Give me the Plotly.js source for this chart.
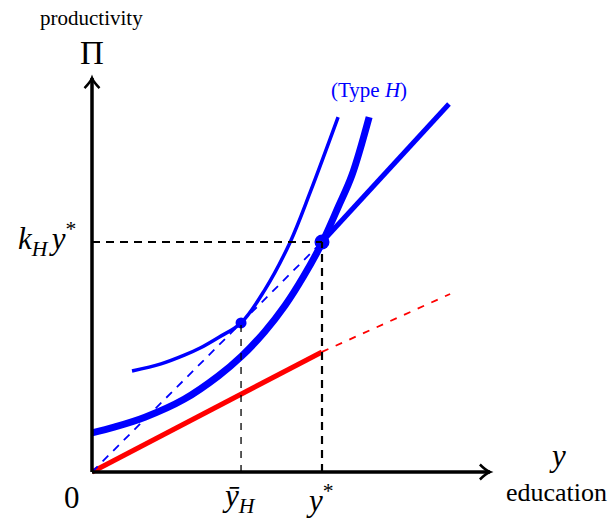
<!DOCTYPE html>
<html>
<head>
<meta charset="utf-8">
<script src="https://cdn.plot.ly/plotly-3.0.1.min.js"></script>
<style>html,body{margin:0;padding:0;background:#fff;}#chart{width:614px;height:521px;}</style>
</head>
<body>
<div id="chart"></div>
<script>
// ---- data (units: y* = 1, k_H y* = 1) ----
const thickX = [0, 0.10, 0.23, 0.40, 0.55, 0.65, 0.75, 0.84, 0.92, 1.00, 1.07, 1.13, 1.205];
const thickY = [0.17, 0.196, 0.238, 0.316, 0.418, 0.503, 0.609, 0.725, 0.851, 0.996, 1.151, 1.29, 1.543];
const thinX = [0.174, 0.30, 0.404, 0.47, 0.55, 0.648, 0.75, 0.86, 0.95, 1.07];
const thinY = [0.439, 0.47, 0.509, 0.539, 0.585, 0.648, 0.79, 0.996, 1.22, 1.543];
const rayX = [1.0, 1.552];
const rayY = [1.0, 1.60];
const chordX = [0, 1.0];
const chordY = [0, 1.0];
const redX = [0, 1.0];
const redY = [0, 0.522];
const redDashX = [1.0, 1.557];
const redDashY = [0.522, 0.774];
const dotX = [0.648, 1.0];
const dotY = [0.648, 1.0];
const dotSize = [11, 15];
const yBarH = 0.648, yStar = 1.0, kHyStar = 1.0;
const xAxisEnd = 1.730, yAxisEnd = 1.713;
const tickLabels = ['0', '<i>ȳ</i><sub><i>H</i></sub>', '<i>y</i><sup>*</sup>'];

// ---- layout helpers ----
const pxPerUnit = 230;
const u = p => p / pxPerUnit;
const serif = 'Liberation Serif, Times New Roman, serif';

const traces = [
  {x: redX, y: redY, mode: 'lines', line: {color: '#ff0000', width: 5}},
  {x: redDashX, y: redDashY, mode: 'lines', line: {color: '#ff0000', width: 1.8, dash: '7px,8px'}},
  {x: chordX, y: chordY, mode: 'lines', line: {color: '#0000ff', width: 1.8, dash: '8px,7px'}},
  {x: thickX, y: thickY, mode: 'lines', line: {color: '#0000ff', width: 7, shape: 'spline', smoothing: 1}},
  {x: thinX, y: thinY, mode: 'lines', line: {color: '#0000ff', width: 3.5, shape: 'spline', smoothing: 1}},
  {x: rayX, y: rayY, mode: 'lines', line: {color: '#0000ff', width: 5}},
  {x: dotX, y: dotY, mode: 'markers', opacity: 1, marker: {color: '#0000ff', size: dotSize, opacity: 1, line: {width: 0, color: '#0000ff'}}}
];

const ah = u(10), aw = u(7.5);
const shapes = [
  // guide lines
  {type: 'line', x0: 0, x1: yStar, y0: kHyStar, y1: kHyStar, line: {color: '#000', width: 2.2, dash: '8px,6px'}},
  {type: 'line', x0: yStar, x1: yStar, y0: 0, y1: kHyStar, line: {color: '#000', width: 2.2, dash: '8px,6px'}},
  {type: 'line', x0: yBarH, x1: yBarH, y0: 0, y1: yBarH, line: {color: '#000', width: 1.3, dash: '7px,7px'}},
  // axes
  {type: 'line', x0: 0, x1: xAxisEnd, y0: 0, y1: 0, line: {color: '#000', width: 3.5}, layer: 'above'},
  {type: 'line', x0: 0, x1: 0, y0: 0, y1: yAxisEnd, line: {color: '#000', width: 3.5}, layer: 'above'},
  {type: 'path', path: `M ${xAxisEnd - ah} ${-aw} Q ${xAxisEnd - ah*0.4} ${-aw*0.2} ${xAxisEnd} 0 Q ${xAxisEnd - ah*0.4} ${aw*0.2} ${xAxisEnd - ah} ${aw}`, line: {color: '#000', width: 2.5}, layer: 'above'},
  {type: 'path', path: `M ${-aw} ${yAxisEnd - ah} Q ${-aw*0.2} ${yAxisEnd - ah*0.4} 0 ${yAxisEnd} Q ${aw*0.2} ${yAxisEnd - ah*0.4} ${aw} ${yAxisEnd - ah}`, line: {color: '#000', width: 2.5}, layer: 'above'}
];

const ann = (x, y, text, size, extra) => Object.assign({x, y, xref: 'x', yref: 'y', text, showarrow: false,
  font: {family: serif, size, color: '#000'}, xanchor: 'center', yanchor: 'middle'}, extra || {});

const annotations = [
  ann(u(-1), u(454), 'productivity', 21),
  ann(0, u(419), 'Π', 33),
  ann(u(-14), kHyStar + u(3), '<i>k</i><sub><i>H</i>\u2009</sub><i>y</i><sup>*</sup>', 31, {xanchor: 'right'}),
  ann(u(-20), u(-25), tickLabels[0], 31),
  ann(yBarH - u(2), u(-26), tickLabels[1], 31),
  ann(yStar - u(2), u(-26), tickLabels[2], 31),
  ann(u(465), u(17), '<i>y</i>', 31),
  ann(u(464), u(-20), 'education', 26),
  Object.assign(ann(u(277), u(382), '(Type <i>H</i>)', 21), {font: {family: serif, size: 21, color: '#0000ff'}})
];

const layout = {
  width: 614, height: 521,
  margin: {l: 0, r: 0, t: 0, b: 0},
  paper_bgcolor: '#fff', plot_bgcolor: '#fff',
  showlegend: false,
  xaxis: {range: [u(-92), u(614 - 92)], visible: false, fixedrange: true},
  yaxis: {range: [u(472 - 521), u(472)], visible: false, fixedrange: true},
  shapes, annotations
};

Plotly.newPlot('chart', traces, layout, {displayModeBar: false, staticPlot: true});
</script>
</body>
</html>
